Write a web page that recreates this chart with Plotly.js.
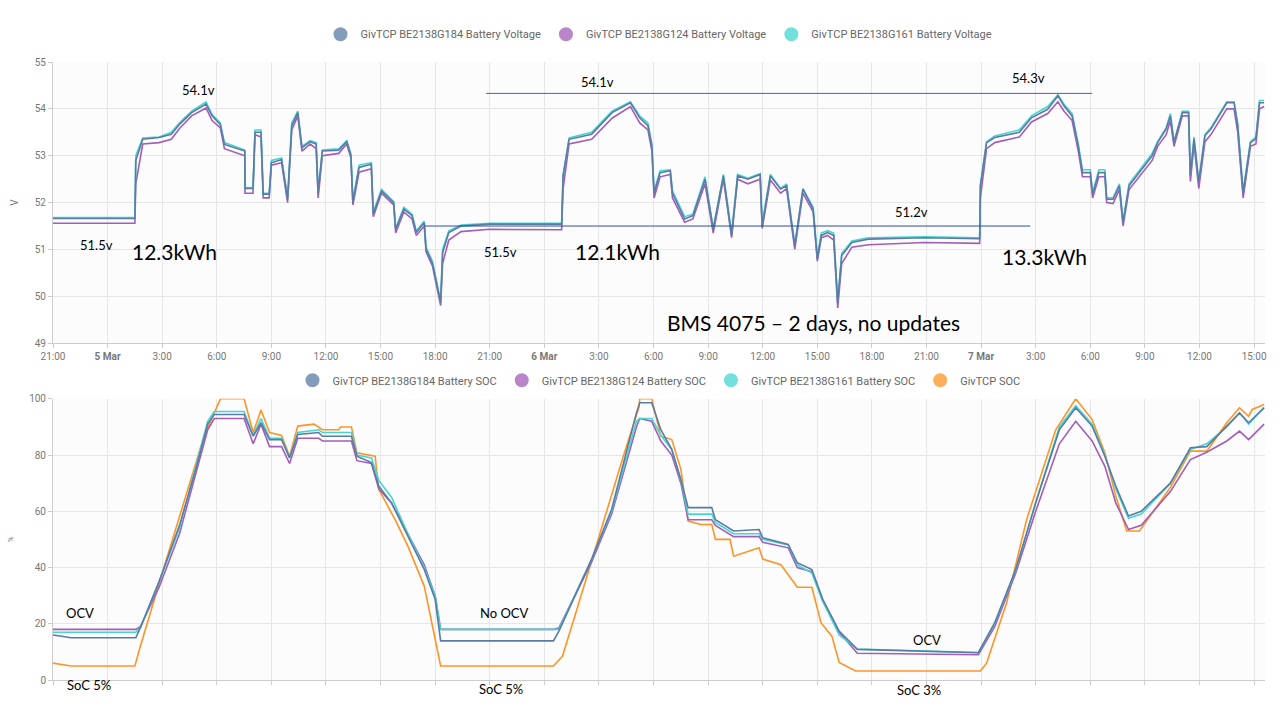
<!DOCTYPE html>
<html>
<head>
<meta charset="utf-8">
<script src="https://cdn.plot.ly/plotly-3.0.1.min.js"></script>
<style>
  html, body { margin: 0; padding: 0; background: #fff; }
  #graph { width: 1280px; height: 720px; }
</style>
</head>
<body>
<div id="graph"></div>
<script>
// hours since 4 Mar 21:00
var tickVals = [0,3,6,9,12,15,18,21,24,27,30,33,36,39,42,45,48,51,54,57,60,63,66];
var tickText = ['21:00','<b>5 Mar</b>','3:00','6:00','9:00','12:00','15:00','18:00','21:00','<b>6 Mar</b>','3:00','6:00','9:00','12:00','15:00','18:00','21:00','<b>7 Mar</b>','3:00','6:00','9:00','12:00','15:00'];

// battery voltage, shared time base
var tV = [0,4.5,4.55,4.93,5.83,6.5,6.95,7.62,8.41,8.74,9.19,9.42,10.54,10.55,10.99,11.1,11.43,11.55,11.88,12.0,12.56,12.89,13.12,13.45,13.68,14.13,14.46,14.57,14.8,15.7,16.14,16.37,16.48,16.82,17.49,17.6,18.05,18.72,18.83,19.28,19.73,19.96,20.4,20.5,20.85,21.3,21.41,21.75,22.42,24.0,27.95,28.03,28.36,29.6,30.72,31.73,32.24,32.69,32.91,33.03,33.36,33.92,34.04,34.71,35.16,35.83,36.28,36.84,37.29,37.62,38.18,38.86,38.97,39.42,39.98,40.31,40.76,41.21,41.77,42.0,42.22,42.56,42.9,43.12,43.34,43.9,44.8,47.9,50.92,50.96,51.3,51.75,53.1,53.77,54.66,55.22,55.56,56.0,56.34,56.57,57.0,57.13,57.47,57.8,57.9,58.25,58.6,58.8,59.13,59.8,60.4,60.7,61.17,61.4,61.6,62.06,62.4,62.5,62.7,62.96,63.3,63.63,64.08,64.5,64.9,65.1,65.4,65.8,66.1,66.3,66.55];
var vG184 = [51.66,51.66,52.9,53.35,53.39,53.46,53.67,53.92,54.1,53.85,53.67,53.24,53.1,52.3,52.3,53.5,53.5,52.18,52.18,52.85,52.92,52.07,53.64,53.92,53.17,53.3,53.25,52.2,53.1,53.12,53.3,53.0,52.0,52.75,52.82,51.75,52.25,52.0,51.43,51.86,51.72,51.36,51.57,51.0,50.7,49.87,50.93,51.36,51.5,51.54,51.54,52.57,53.35,53.46,53.92,54.13,53.81,53.64,53.2,52.2,52.64,52.68,52.2,51.65,51.72,52.5,51.43,52.57,51.3,52.57,52.5,52.6,51.5,52.57,52.29,52.36,51.08,52.29,51.86,50.8,51.3,51.36,51.3,49.87,50.87,51.15,51.22,51.25,51.23,52.35,53.28,53.39,53.5,53.81,53.99,54.28,54.06,53.85,53.2,52.64,52.64,52.18,52.64,52.64,52.07,52.07,52.36,51.57,52.36,52.71,53.0,53.28,53.57,53.85,53.28,53.92,53.92,52.57,53.36,52.43,53.43,53.57,53.85,54.13,54.13,53.64,52.2,53.28,53.36,54.13,54.13];
var vG124 = [51.56,51.56,52.4,53.25,53.28,53.35,53.58,53.85,54.02,53.75,53.6,53.15,53.0,52.2,52.2,53.45,53.4,52.1,52.1,52.8,52.85,52.0,53.55,53.85,53.1,53.25,53.15,52.1,53.0,53.05,53.25,52.95,51.95,52.65,52.72,51.7,52.2,51.95,51.35,51.8,51.65,51.3,51.5,50.95,50.65,49.8,50.7,51.2,51.38,51.43,51.42,52.3,53.25,53.35,53.8,54.05,53.7,53.55,53.1,52.1,52.55,52.6,52.1,51.58,51.65,52.4,51.35,52.5,51.25,52.5,52.4,52.5,51.45,52.48,52.2,52.3,51.0,52.2,51.8,50.75,51.25,51.3,51.2,49.75,50.7,51.05,51.1,51.15,51.13,52.1,53.15,53.28,53.4,53.72,53.9,54.15,53.95,53.75,53.1,52.55,52.55,52.1,52.55,52.55,52.0,51.98,52.28,51.5,52.28,52.6,52.9,53.2,53.45,53.75,53.2,53.85,53.85,52.45,53.25,52.3,53.3,53.45,53.75,54.0,54.0,53.5,52.1,53.2,53.25,54.0,54.05];
var vG161 = [51.68,51.68,53.0,53.38,53.4,53.5,53.7,53.95,54.15,53.88,53.7,53.28,53.12,52.32,52.32,53.55,53.55,52.2,52.2,52.9,52.95,52.1,53.7,53.95,53.2,53.32,53.28,52.25,53.12,53.15,53.32,53.05,52.05,52.8,52.85,51.8,52.28,52.02,51.45,51.9,51.75,51.4,51.6,51.05,50.75,49.9,51.0,51.4,51.52,51.56,51.56,52.6,53.38,53.5,53.95,54.15,53.85,53.7,53.25,52.25,52.68,52.7,52.25,51.7,51.75,52.55,51.45,52.6,51.35,52.6,52.52,52.62,51.55,52.6,52.3,52.4,51.1,52.3,51.9,50.85,51.35,51.4,51.35,49.9,50.92,51.18,51.25,51.27,51.25,52.4,53.3,53.42,53.55,53.85,54.05,54.3,54.1,53.9,53.25,52.7,52.7,52.2,52.7,52.7,52.1,52.1,52.4,51.6,52.4,52.75,53.05,53.3,53.6,53.9,53.3,53.95,53.95,52.6,53.4,52.45,53.45,53.6,53.9,54.15,54.15,53.7,52.25,53.3,53.4,54.18,54.18];

// battery SOC, shared time base for the three batteries
var tS = [0,1.0,4.55,4.8,5.83,6.95,7.85,8.5,8.86,10.5,11.0,11.43,11.9,12.56,13.0,13.45,14.6,14.8,16.4,16.7,17.5,17.9,18.6,19.5,20.4,21.0,21.3,27.5,27.8,29.6,30.7,32.06,32.24,32.9,33.4,34.0,34.5,34.9,36.2,36.4,37.4,38.8,39.0,40.4,40.9,41.7,42.3,43.2,44.2,50.85,51.75,52.9,54.0,55.3,56.2,57.1,57.8,58.4,59.1,59.8,61.4,62.5,63.4,64.5,65.2,65.7,66.55];
var sG184 = [16,15,15,18.6,35,55,75,91,94.4,94.4,86.7,91.5,85.5,85.5,79,87.3,88,86.7,86.7,79.6,77.3,69,63,51,39.3,28.7,13.9,13.9,17.4,43,60.7,95,98.6,98.6,89,82,71.3,61.3,61.3,57,53,53.5,50.6,48.2,41.7,39.3,28.7,17.4,10.9,9.7,20.4,39.3,63,89,96.8,90.3,79.6,69,58.3,60,70,82.6,83,90.3,95,91.5,96.8];
var sG124 = [18,18,18,19,33,52,74,89,93,93,84,91,83,83,77,86,86,85,85,78,77,68,63,52,41,30,18,18,18.5,42,59,90,93,92,85,80,70,57,57,55,51,51,49,47,40,38.5,28,17,9.5,9,19,38,60,84,92,85,76,63,53.5,55,67,78.4,81,85,88.5,85.5,91];
var sG161 = [17,17,17,18.5,35,54,76,92,95.5,95.5,87,93,86,86,79,88,89,88,88,80,79,71,65,52,40,30,18,18,18,43,60,92,93,93,87,82,71,59,59,56,52,52,50,48,41,38,28,16,11,9.8,20,39,63,90,97.5,91,80,68,57.5,59,70,82,84,90,95,91,97];

// inverter SOC
var tO = [0,1.0,4.5,4.8,6.05,7.2,8.3,9.2,10.5,11.0,11.43,11.9,12.56,13.0,13.45,14.35,14.8,15.7,15.8,16.4,16.7,17.7,17.9,18.8,19.5,20.4,21.3,27.5,28.0,28.9,30.0,31.4,32.2,32.24,32.9,33.4,34.0,34.5,34.9,35.6,36.2,36.4,37.2,37.4,38.8,39.0,40.0,40.9,41.7,42.2,42.8,43.2,44.1,50.96,51.3,52.4,53.5,55.1,56.2,57.1,57.8,58.4,59.0,59.7,61.4,62.5,63.4,64.5,65.2,65.7,65.9,66.55];
var sInv = [6,5,5,12,39,63,86.7,100,100,88,96,88,87,79.6,90.3,91,89,89,90,90,80.8,79.6,67.8,57,47.6,33.4,5,5,8.5,27.5,51,80.8,97,100,100,86.7,85.5,75,56.5,55.3,55.3,50,50,44,47,43,41,33,33,20.4,15.6,6.2,3.2,3.2,6,27.5,57,89,100,92.6,80.8,65.4,53,53,68.5,81.4,81.4,91.5,96.8,93.8,96.2,98];

var cBlue = '#5a7ca3', cPurple = '#a35db8', cCyan = '#45d6d2', cOrange = '#ff9426';
var lineHi = 54.33, lineLo = 51.5;

function tr(x, y, color, xa, ya) {
  return {x: x, y: y, type: 'scatter', mode: 'lines', xaxis: xa, yaxis: ya, showlegend: false,
    line: {color: color, width: 1.6}, hoverinfo: 'skip'};
}
// legend-only entries with round swatches
function key(name, color, xa, ya, leg, rank) {
  return {x: [null], y: [null], name: name, type: 'scatter', mode: 'markers', xaxis: xa, yaxis: ya,
    legend: leg, legendrank: rank,
    marker: {color: color, opacity: 0.75, size: 13, line: {color: color, width: 1}}};
}

var data = [
  tr(tV, vG124, cPurple, 'x', 'y'),
  tr(tV, vG161, cCyan, 'x', 'y'),
  tr(tV, vG184, cBlue, 'x', 'y'),
  tr(tO, sInv, cOrange, 'x2', 'y2'),
  tr(tS, sG124, cPurple, 'x2', 'y2'),
  tr(tS, sG161, cCyan, 'x2', 'y2'),
  tr(tS, sG184, cBlue, 'x2', 'y2'),
  key('GivTCP BE2138G184 Battery Voltage', cBlue, 'x', 'y', 'legend', 1),
  key('GivTCP BE2138G124 Battery Voltage', cPurple, 'x', 'y', 'legend', 2),
  key('GivTCP BE2138G161 Battery Voltage', cCyan, 'x', 'y', 'legend', 3),
  key('GivTCP BE2138G184 Battery SOC', cBlue, 'x2', 'y2', 'legend2', 1),
  key('GivTCP BE2138G124 Battery SOC', cPurple, 'x2', 'y2', 'legend2', 2),
  key('GivTCP BE2138G161 Battery SOC', cCyan, 'x2', 'y2', 'legend2', 3),
  key('GivTCP SOC', cOrange, 'x2', 'y2', 'legend2', 4)
];

var gridC = '#e6e6e6';
var tickF = {family: 'Roboto', size: 10, color: '#777'};
var noteF = {family: 'Lato, Open Sans', size: 13, color: '#000'};
var bigF = {family: 'Lato, Open Sans', size: 21, color: '#000'};

function note(x, y, text, font, xr, yr) {
  return {x: x, y: y, text: text, showarrow: false, font: font, xref: xr || 'x', yref: yr || 'y'};
}

var layout = {
  width: 1280, height: 720,
  paper_bgcolor: '#fff', plot_bgcolor: '#fcfcfc',
  margin: {l: 53, r: 15, t: 62, b: 40},
  xaxis: {range: [0, 66.6], tickvals: tickVals, ticktext: tickText, tickfont: tickF,
    showgrid: true, gridcolor: gridC, zeroline: false, showline: true, linecolor: '#ccc',
    anchor: 'y', ticks: 'outside', ticklen: 4, tickcolor: '#ccc'},
  yaxis: {domain: [0.545, 1], range: [49, 55], dtick: 1, tickfont: tickF, gridcolor: gridC,
    zeroline: false, ticks: 'outside', ticklen: 4, tickcolor: '#ccc', showline: true, linecolor: '#ccc',
    title: {text: 'V', font: {family: 'Roboto', size: 10, color: '#777'}, standoff: 14}},
  xaxis2: {range: [0, 66.6], tickvals: tickVals, showticklabels: false, anchor: 'y2',
    showgrid: true, gridcolor: gridC, zeroline: false, showline: true, linecolor: '#ccc',
    ticks: 'outside', ticklen: 4, tickcolor: '#ccc'},
  yaxis2: {domain: [0, 0.455], range: [0, 100], dtick: 20, tickfont: tickF, gridcolor: gridC,
    zeroline: false, ticks: 'outside', ticklen: 4, tickcolor: '#ccc', showline: true, linecolor: '#ccc',
    title: {text: '%', font: {family: 'Roboto', size: 8, color: '#777'}, standoff: 14}},
  legend: {orientation: 'h', x: 0.5, xanchor: 'center', y: 1.045, yanchor: 'middle',
    font: {family: 'Roboto', size: 11, color: '#666'}, itemsizing: 'constant', traceorder: 'normal'},
  legend2: {orientation: 'h', x: 0.5, xanchor: 'center', y: 0.485, yanchor: 'middle',
    font: {family: 'Roboto', size: 11, color: '#666'}, itemsizing: 'constant', traceorder: 'normal'},
  shapes: [
    {type: 'line', xref: 'x', yref: 'y', x0: 23.8, x1: 57.1, y0: lineHi, y1: lineHi, line: {color: '#3a66c4', width: 1}},
    {type: 'line', xref: 'x', yref: 'y', x0: 20.4, x1: 53.7, y0: lineLo, y1: lineLo, line: {color: '#2b4f9e', width: 1}}
  ],
  annotations: [
    note(8.0, 54.4, '54.1v', noteF),
    note(2.4, 51.1, '51.5v', noteF),
    note(6.7, 50.95, '12.3kWh', bigF),
    note(29.9, 54.57, '54.1v', noteF),
    note(24.6, 50.95, '51.5v', noteF),
    note(31.0, 50.95, '12.1kWh', bigF),
    note(47.2, 51.8, '51.2v', noteF),
    note(53.6, 54.65, '54.3v', noteF),
    note(54.5, 50.85, '13.3kWh', bigF),
    note(41.8, 49.45, 'BMS 4075 – 2 days, no updates', bigF),
    note(1.5, 24, 'OCV', noteF, 'x2', 'y2'),
    note(24.8, 23.8, 'No OCV', noteF, 'x2', 'y2'),
    note(48.0, 14.2, 'OCV', noteF, 'x2', 'y2'),
    note(2.0, -0.025, 'SoC 5%', noteF, 'x2', 'paper'),
    note(24.6, -0.031, 'SoC 5%', noteF, 'x2', 'paper'),
    note(47.6, -0.033, 'SoC 3%', noteF, 'x2', 'paper')
  ]
};

Plotly.newPlot('graph', data, layout, {displayModeBar: false, staticPlot: true});
</script>
</body>
</html>
